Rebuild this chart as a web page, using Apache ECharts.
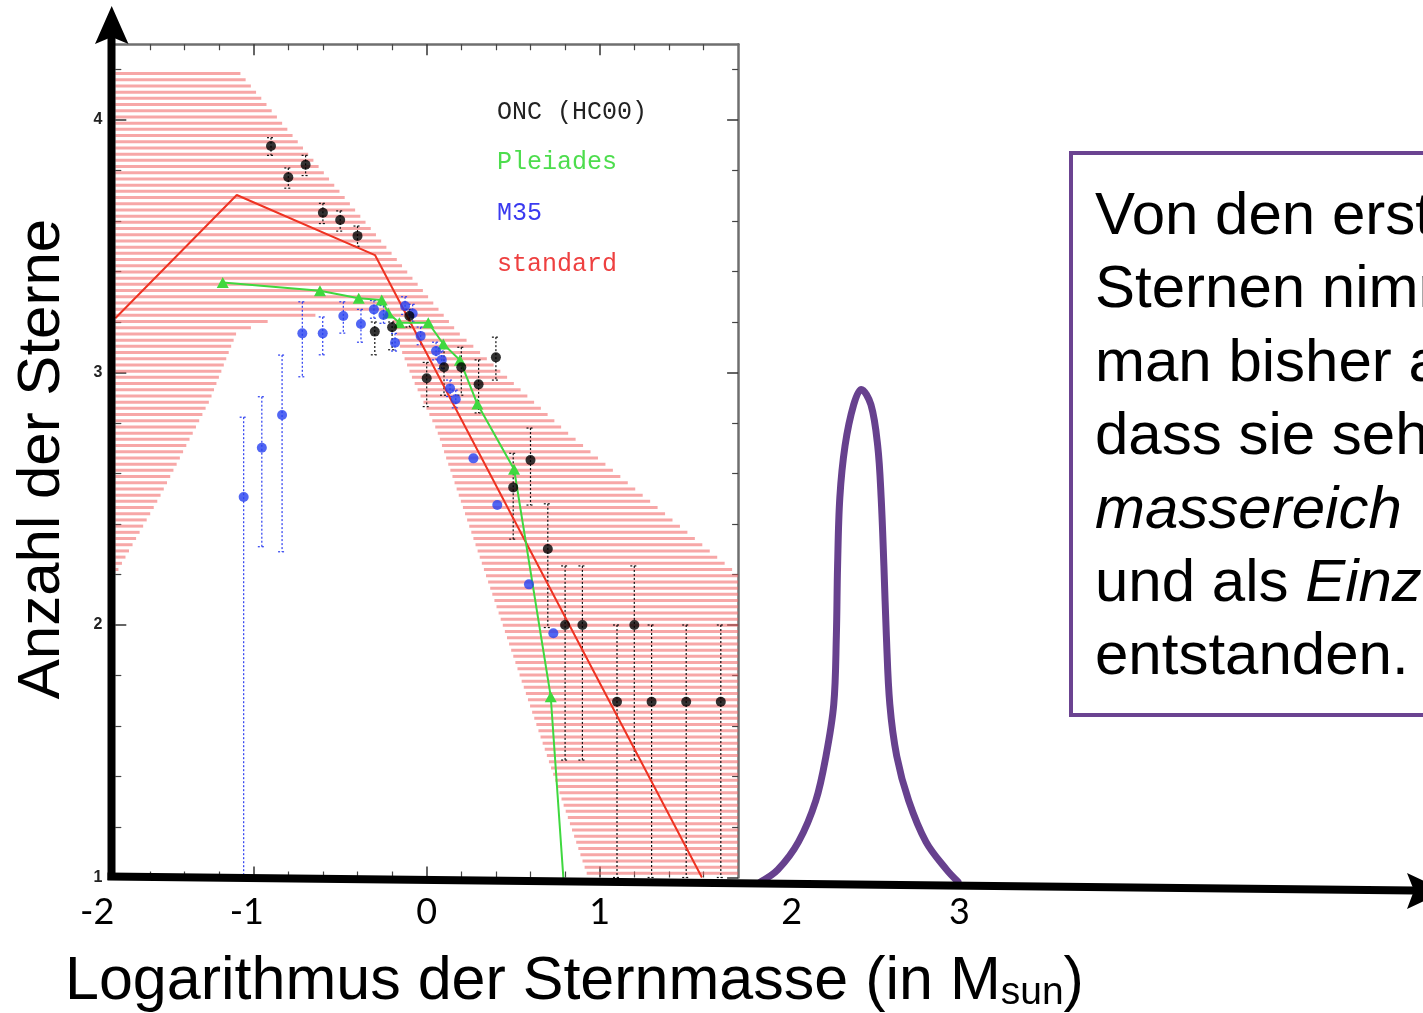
<!DOCTYPE html>
<html><head><meta charset="utf-8">
<script src="https://cdn.jsdelivr.net/npm/echarts@6/dist/echarts.min.js"></script>
<style>html,body{margin:0;padding:0;background:#fff}#c{width:1423px;height:1013px}</style>
</head><body><div id="c"></div>
<script>
// ---------- DATA (inner plot: log mass vs log N) ----------
const oncPoints = [[-0.9,3.897],[-0.8,3.773],[-0.7,3.823],[-0.6,3.633],[-0.5,3.604],[-0.4,3.541],[-0.3,3.162],[-0.2,3.179],[-0.1,3.224],[0,2.977],[0.1,3.021],[0.2,3.021],[0.3,2.953],[0.4,3.06],[0.5,2.545],[0.6,2.653],[0.7,2.301],[0.8,2.0],[0.9,2.0],[1.1,1.696],[1.2,2.0],[1.3,1.696],[1.5,1.696],[1.7,1.696]];
const oncErrHigh = [3.93,3.81,3.86,3.67,3.64,3.58,3.20,3.20,3.25,3.04,3.10,3.10,3.05,3.14,2.68,2.78,2.48,2.234,2.234,2.0,2.234,2.0,2.0,2.0];
const oncErrLow  = [3.86,3.73,3.78,3.59,3.56,3.50,3.07,3.09,3.18,2.865,2.91,2.91,2.84,2.97,2.34,2.475,1.99,1.465,1.465,1.0,1.465,1.0,1.0,1.0];

const m35Points = [[-1.058,2.507],[-0.953,2.702],[-0.836,2.832],[-0.719,3.155],[-0.601,3.155],[-0.482,3.224],[-0.38,3.192],[-0.305,3.25],[-0.25,3.228],[-0.183,3.118],[-0.125,3.263],[-0.081,3.234],[-0.035,3.145],[0.054,3.085],[0.087,3.05],[0.135,2.937],[0.168,2.894],[0.27,2.66],[0.408,2.475],[0.591,2.161],[0.732,1.967]];
const m35ErrHigh = [2.823,2.904,3.069,3.28,3.22,3.28,3.25,3.285,3.265,3.155,3.30,3.27,3.18,3.12,3.085,2.97,2.93,null,null,null,null];
const m35ErrLow  = [1.0,2.31,2.29,2.983,3.07,3.156,3.12,3.215,3.195,3.085,3.23,3.20,3.11,3.05,3.015,2.905,2.86,null,null,null,null];

const pleiadesPoints = [[-1.179,3.356],[-0.617,3.324],[-0.393,3.294],[-0.26,3.287],[-0.222,3.236],[-0.158,3.197],[0.009,3.197],[0.096,3.113],[0.192,3.049],[0.293,2.875],[0.505,2.617],[0.717,1.716],[0.80,0.90]];

const standardLine = [[-1.8,3.215],[-1.098,3.703],[-0.299,3.465],[1.591,1.0]];

const bandUpper = [[-1.8,4.19],[-1.084,4.19],[0.18,3.16],[0.80,2.77],[1.8,2.20]];
const bandLower = [[-1.8,2.198],[-1.553,2.495],[-1.253,2.891],[-1.10,3.156],[-0.848,3.22],[-0.212,3.24],[-0.154,3.10],[-0.079,2.97],[0.058,2.772],[0.933,1.0],[1.8,1.0]];

// slide overlay: the purple bump (same coordinates as the plot)
const purpleCurve = [[1.931,0.983],[2.030,1.031],[2.149,1.141],[2.249,1.304],[2.308,1.481],[2.353,1.686],[2.368,1.958],[2.375,2.231],[2.388,2.504],[2.418,2.709],[2.468,2.872],[2.512,2.933],[2.568,2.872],[2.607,2.709],[2.627,2.504],[2.643,2.231],[2.657,1.958],[2.677,1.686],[2.717,1.481],[2.786,1.304],[2.886,1.141],[3.005,1.031],[3.071,0.983]];

// ticks / labels
const innerXMajor = [-1, 0, 1];
const innerXMinor = [-1.6,-1.4,-1.2,-0.8,-0.6,-0.4,-0.2,0.2,0.4,0.6,0.8,1.2,1.4,1.6];
const innerYMajor = [1, 2, 3, 4];
const innerYMinor = [1.2,1.4,1.6,1.8,2.2,2.4,2.6,2.8,3.2,3.4,3.6,3.8,4.2];
const slideTickPos = [-1.905, -1.04, 0, 1.0, 2.11, 3.08];
const slideTickLabels = ['-2', '-1', '0', '1', '2', '3'];

const legendNames = ['ONC (HC00)', 'Pleiades', 'M35', 'standard'];
const legendColors = ['#222222', '#4ddd4d', '#3a3af0', '#ee4040'];

const boxLines = 'Von den ersten\nSternen nimmt\nman bisher an,\ndass sie sehr\n{i|massereich}\nund als {i|Einzelsterne}\nentstanden.';

// ---------- CHART ----------
const chart = echarts.init(document.getElementById('c'), null, {renderer: 'canvas'});
const FF = '"Liberation Sans", Arial, sans-serif';
const GRAY = '#6f6f6f';

function bandRender(params, api) {
  const poly = bandUpper.concat(bandLower.slice().reverse()).map(p => api.coord(p));
  let ymin = Infinity, ymax = -Infinity;
  poly.forEach(p => { ymin = Math.min(ymin, p[1]); ymax = Math.max(ymax, p[1]); });
  const children = [];
  const gap = 6.2, w = 3;
  for (let y = ymin + 1.5; y < ymax; y += gap) {
    const xs = [];
    for (let i = 0; i < poly.length; i++) {
      const a = poly[i], b = poly[(i + 1) % poly.length];
      if ((a[1] <= y && b[1] > y) || (b[1] <= y && a[1] > y)) {
        xs.push(a[0] + (y - a[1]) * (b[0] - a[0]) / (b[1] - a[1]));
      }
    }
    xs.sort((p, q) => p - q);
    for (let k = 0; k + 1 < xs.length; k += 2) {
      children.push({type: 'line', shape: {x1: xs[k], y1: y, x2: xs[k + 1], y2: y},
        style: {stroke: 'rgba(240,95,95,0.55)', lineWidth: w}});
    }
  }
  return {type: 'group', children: children, silent: true};
}

function errRender(color) {
  return function (params, api) {
    const x = api.value(0), hi = api.value(1), lo = api.value(2);
    const t = api.coord([x, hi]), b = api.coord([x, lo]);
    const st = {stroke: color, lineWidth: 1.2, lineDash: [2, 2]};
    const cap = 4;
    return {type: 'group', silent: true, children: [
      {type: 'line', shape: {x1: t[0], y1: t[1], x2: b[0], y2: b[1]}, style: st},
      {type: 'line', shape: {x1: t[0] - cap, y1: t[1], x2: t[0] + cap, y2: t[1]}, style: st},
      {type: 'line', shape: {x1: b[0] - cap, y1: b[1], x2: b[0] + cap, y2: b[1]}, style: st}
    ]};
  };
}

const oncErrData = oncPoints.map((p, i) => [p[0], oncErrHigh[i], oncErrLow[i]]);
const m35ErrData = m35Points.map((p, i) => [p[0], m35ErrHigh[i], m35ErrLow[i]]).filter(d => d[1] !== null);
const pleiadesData = pleiadesPoints.map((p, i) => i === pleiadesPoints.length - 1 ? {value: p, symbol: 'none'} : p);

function tickAxis(base) {
  const ax = Object.assign({type: 'value', gridIndex: 0, splitLine: {show: false}, axisLabel: {show: false}}, base);
  ax.axisLine = Object.assign({onZero: false}, ax.axisLine || {});
  return ax;
}

const option = {
  animation: false,
  backgroundColor: '#ffffff',
  textStyle: {fontFamily: FF},
  grid: [
    {left: 115.3, top: 44.25, width: 622.8, height: 833.25},
    {left: 80.7, top: 44.25, width: 1342.3, height: 833.25}
  ],
  xAxis: [
    tickAxis({min: -1.8, max: 1.8, position: 'bottom', axisLine: {show: false},
      axisTick: {inside: true, length: 11, customValues: innerXMajor, lineStyle: {color: '#333', width: 1.5}}}),
    tickAxis({min: -1.8, max: 1.8, position: 'top', axisLine: {show: true, lineStyle: {color: GRAY, width: 2.5}},
      axisTick: {inside: true, length: 11, customValues: innerXMajor, lineStyle: {color: '#333', width: 1.5}}}),
    tickAxis({min: -1.8, max: 1.8, position: 'bottom', axisLine: {show: false},
      axisTick: {inside: true, length: 6, customValues: innerXMinor, lineStyle: {color: '#444', width: 1.2}}}),
    tickAxis({min: -1.8, max: 1.8, position: 'top', axisLine: {show: false},
      axisTick: {inside: true, length: 6, customValues: innerXMinor, lineStyle: {color: '#444', width: 1.2}}}),
    {type: 'value', gridIndex: 1, min: -2, max: 5.759, position: 'bottom',
      axisLine: {show: false, onZero: false}, axisTick: {show: false}, splitLine: {show: false},
      axisLabel: {show: true, customValues: slideTickPos, margin: 17, fontSize: 36, color: '#000',
        fontFamily: 'Lato, "Open Sans", sans-serif',
        formatter: v => { const i = slideTickPos.indexOf(v); return i >= 0 ? slideTickLabels[i] : ''; }}}
  ],
  yAxis: [
    tickAxis({min: 1, max: 4.3, position: 'left', axisLine: {show: false},
      axisTick: {inside: true, length: 11, customValues: innerYMajor, lineStyle: {color: '#333', width: 1.5}},
      axisLabel: {show: true, customValues: innerYMajor, margin: 13, fontSize: 16, fontWeight: 'bold', color: '#222', fontFamily: FF}}),
    tickAxis({min: 1, max: 4.3, position: 'right', axisLine: {show: true, lineStyle: {color: GRAY, width: 2.5}},
      axisTick: {inside: true, length: 11, customValues: innerYMajor, lineStyle: {color: '#333', width: 1.5}}}),
    tickAxis({min: 1, max: 4.3, position: 'left', axisLine: {show: false},
      axisTick: {inside: true, length: 6, customValues: innerYMinor, lineStyle: {color: '#444', width: 1.2}}}),
    tickAxis({min: 1, max: 4.3, position: 'right', axisLine: {show: false},
      axisTick: {inside: true, length: 6, customValues: innerYMinor, lineStyle: {color: '#444', width: 1.2}}}),
    {type: 'value', gridIndex: 1, min: 1, max: 4.3, show: false, axisLine: {onZero: false}}
  ],
  series: [
    {name: 'band', type: 'custom', xAxisIndex: 0, yAxisIndex: 0, renderItem: bandRender, data: [[0, 0]], z: 1, silent: true},
    {name: 'standard', type: 'line', xAxisIndex: 0, yAxisIndex: 0, data: standardLine, symbol: 'none',
      lineStyle: {color: '#ee3322', width: 2}, z: 3, silent: true},
    {name: 'oncErr', type: 'custom', xAxisIndex: 0, yAxisIndex: 0, renderItem: errRender('#111'), data: oncErrData, z: 3, silent: true},
    {name: 'm35Err', type: 'custom', xAxisIndex: 0, yAxisIndex: 0, renderItem: errRender('#2a3cf0'), data: m35ErrData, z: 3, silent: true},
    {name: 'Pleiades', type: 'line', xAxisIndex: 0, yAxisIndex: 0, data: pleiadesData, symbol: 'triangle', symbolSize: [12, 11],
      itemStyle: {color: '#3fd83f'}, lineStyle: {color: '#3fd83f', width: 2}, z: 4, silent: true},
    {name: 'M35', type: 'scatter', xAxisIndex: 0, yAxisIndex: 0, data: m35Points, symbol: 'circle', symbolSize: 10,
      itemStyle: {color: '#2540f0'}, z: 5, silent: true},
    {name: 'ONC (HC00)', type: 'scatter', xAxisIndex: 0, yAxisIndex: 0, data: oncPoints, symbol: 'circle', symbolSize: 10,
      itemStyle: {color: '#000'}, z: 6, silent: true},
    {name: 'purple', type: 'line', xAxisIndex: 4, yAxisIndex: 4, data: purpleCurve, symbol: 'none', smooth: 0.35, clip: false,
      lineStyle: {color: '#67418e', width: 7, cap: 'round'}, z: 8, silent: true}
  ],
  graphic: {elements: [
    // legend texts of the inner plot
    ...legendNames.map((n, i) => ({type: 'text', x: 497, y: 112 + i * 50.7, z: 20, silent: true,
      style: {text: n, fontSize: 25, fontFamily: '"Liberation Mono", "DejaVu Sans Mono", monospace', fill: legendColors[i], verticalAlign: 'middle'}})),
    // slide axes
    {type: 'line', z: 30, silent: true, shape: {x1: 111.5, y1: 880, x2: 111.5, y2: 36}, style: {stroke: '#000', lineWidth: 8}},
    {type: 'polygon', z: 30, silent: true, shape: {points: [[111.7, 6], [128.5, 44], [111.7, 37], [95, 44]]}, style: {fill: '#000'}},
    {type: 'line', z: 30, silent: true, shape: {x1: 107.5, y1: 876.5, x2: 1414, y2: 890.5}, style: {stroke: '#000', lineWidth: 8}},
    {type: 'polygon', z: 30, silent: true, shape: {points: [[1446, 891], [1407, 873], [1414, 890.6], [1407, 909]]}, style: {fill: '#000'}},
    // axis titles
    {type: 'text', z: 20, silent: true, x: 65, y: 982,
      style: {text: 'Logarithmus der Sternmasse (in M{s|sun})', fontSize: 61, fontFamily: FF, fill: '#000', verticalAlign: 'middle', lineHeight: 61,
        rich: {s: {fontSize: 39, fontFamily: FF, fill: '#000', lineHeight: 39, verticalAlign: 'bottom'}}}},
    {type: 'text', z: 20, silent: true, x: 42, y: 459, rotation: Math.PI / 2,
      style: {text: 'Anzahl der Sterne', fontSize: 60, fontFamily: FF, fill: '#000', align: 'center', verticalAlign: 'middle'}},
    // text box
    {type: 'rect', z: 20, silent: true, shape: {x: 1071, y: 153, width: 420, height: 562}, style: {fill: 'none', stroke: '#6b4391', lineWidth: 4}},
    {type: 'text', z: 20, silent: true, x: 1095, y: 181,
      style: {text: boxLines, fontSize: 60, fontFamily: FF, fill: '#000', lineHeight: 73.3, verticalAlign: 'top', align: 'left',
        rich: {i: {fontSize: 60, fontFamily: FF, fontStyle: 'italic', fill: '#000', lineHeight: 73.3}}}}
  ]}
};
chart.setOption(option);
</script>
</body></html>
